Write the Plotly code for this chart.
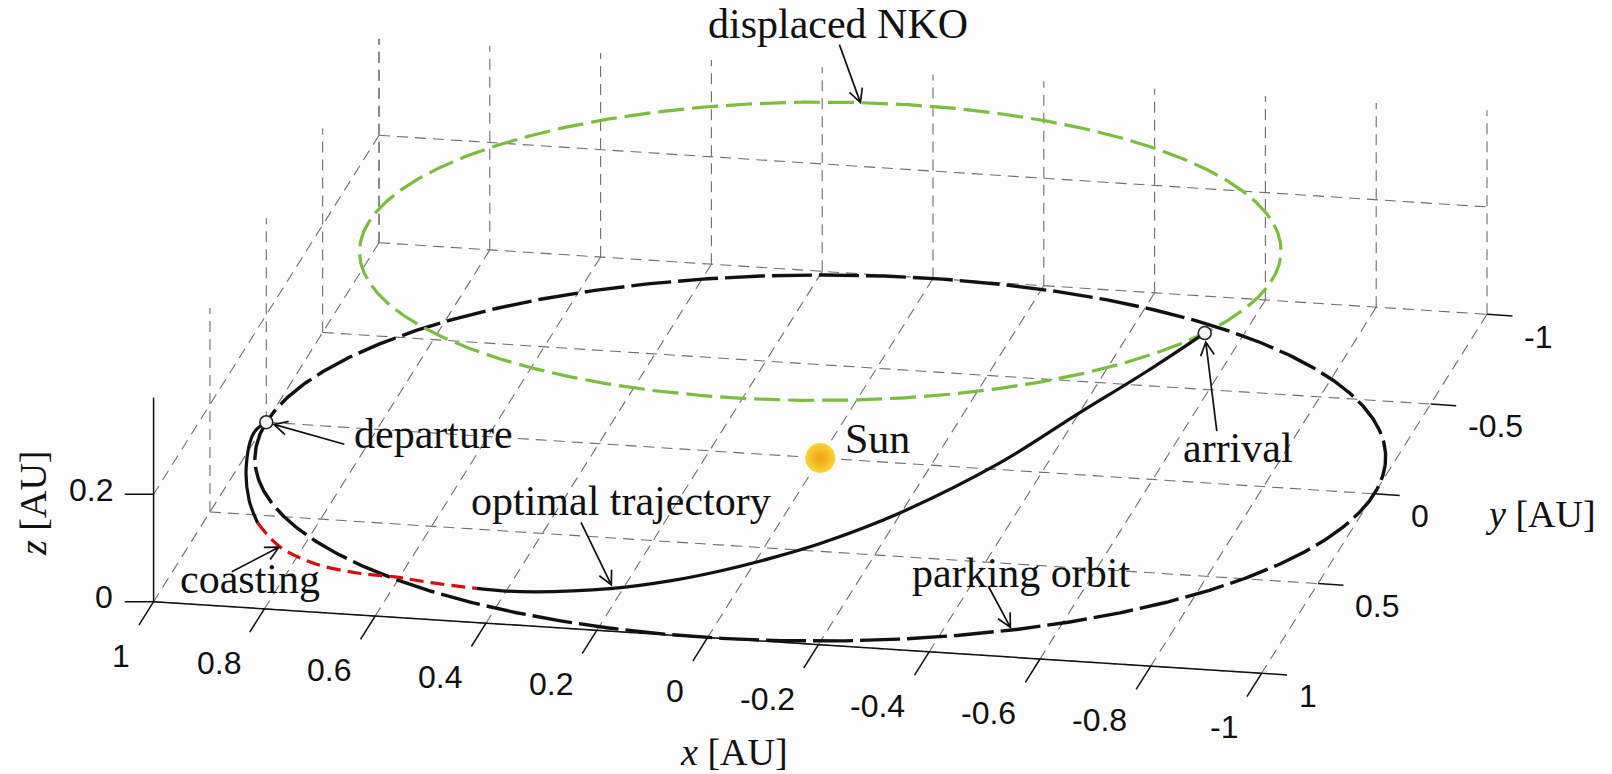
import numpy as np
import plotly.graph_objects as go

# ---------------- data (AU) ----------------
x_ticks = [1, 0.8, 0.6, 0.4, 0.2, 0, -0.2, -0.4, -0.6, -0.8, -1]
x_tick_labels = ["1", "0.8", "0.6", "0.4", "0.2", "0", "-0.2", "-0.4", "-0.6", "-0.8", "-1"]
y_ticks = [-1, -0.5, 0, 0.5, 1]
y_tick_labels = ["-1", "-0.5", "0", "0.5", "1"]
z_ticks = [0, 0.2]
z_tick_labels = ["0", "0.2"]
z_top = 0.38

parking_radius = 1.0          # circular parking orbit in the ecliptic
nko_radius = 0.815            # displaced non-Keplerian orbit
nko_height = 0.385

sun_pos = (0.0, 0.0, 0.0)

# optimal transfer: thrust arc, coasting arc, thrust arc
thrust1_x = [1.000, 1.010, 0.986, 0.945, 0.905]
thrust1_y = [0.000, 0.062, 0.247, 0.423, 0.543]
thrust1_z = [0.0, 0.0, 0.0, 0.0, 0.0]

coast_x = [0.905, 0.841, 0.764, 0.678, 0.608, 0.536, 0.454]
coast_y = [0.543, 0.662, 0.739, 0.776, 0.784, 0.803, 0.817]
coast_z = [0.0, 0.0, 0.0, 0.0, 0.0, 0.0, 0.0]

thrust2_x = [0.454, 0.372, 0.200, 0.098, 0.007, -0.081, -0.166, -0.303, -0.463, -0.585, -0.679, -0.756]
thrust2_y = [0.817, 0.834, 0.856, 0.854, 0.855, 0.842, 0.817, 0.784, 0.683, 0.573, 0.446, 0.305]
thrust2_z = [0.0, 0.005, 0.030, 0.050, 0.075, 0.100, 0.125, 0.180, 0.250, 0.315, 0.355, 0.385]

# ---------------- view (orthographic camera, pixels per AU) ----------------
W, H = 1612, 774
ORIGIN = (820.3, 458.0)
EX = (-554.0, -35.8)
EY = (-112.7, 179.5)
EZ = (0.0, -537.0)


def project(x, y, z):
    x = np.asarray(x, dtype=float)
    y = np.asarray(y, dtype=float)
    z = np.asarray(z, dtype=float)
    u = ORIGIN[0] + EX[0] * x + EY[0] * y + EZ[0] * z
    v = ORIGIN[1] + EX[1] * x + EY[1] * y + EZ[1] * z
    return u, v


def segments(pairs):
    xs, ys = [], []
    for p, q in pairs:
        u, v = project([p[0], q[0]], [p[1], q[1]], [p[2], q[2]])
        xs += list(u) + [None]
        ys += list(v) + [None]
    return xs, ys


fig = go.Figure()

GRID = dict(color="#6e6e6e", width=1.1, dash="11px,7px")
INK = "#111111"

# ---- grid on floor, back wall and side wall ----
grid = []
for xv in x_ticks:
    grid.append(((xv, -1, 0), (xv, 1, 0)))
for yv in y_ticks:
    grid.append(((1, yv, 0), (-1, yv, 0)))
for xv in x_ticks:
    grid.append(((xv, -1, 0), (xv, -1, z_top)))
for zv in z_ticks[1:]:
    grid.append(((1, -1, zv), (-1, -1, zv)))
for yv in y_ticks[:-1]:
    grid.append(((1, yv, 0), (1, yv, z_top)))
for zv in z_ticks[1:]:
    grid.append(((1, -1, zv), (1, 1, zv)))
gx, gy = segments(grid)
fig.add_trace(go.Scatter(x=gx, y=gy, mode="lines", line=GRID, hoverinfo="skip"))

# ---- axis lines and ticks ----
axis = [((1, 1, 0), (-1, 1, 0)), ((1, 1, 0), (1, 1, z_top))]
for xv in x_ticks:
    axis.append(((xv, 1, 0), (xv, 1.13, 0)))
for yv in y_ticks:
    axis.append(((-1, yv, 0), (-1.046, yv, 0)))
for zv in z_ticks:
    axis.append(((1, 1, zv), (1.05, 1.01, zv)))
ax_x, ax_y = segments(axis)
fig.add_trace(go.Scatter(x=ax_x, y=ax_y, mode="lines",
                         line=dict(color=INK, width=1.5), hoverinfo="skip"))

# ---- orbits ----
t = np.linspace(0, 2 * np.pi, 721)
pu, pv = project(parking_radius * np.cos(t), parking_radius * np.sin(t), 0 * t)
fig.add_trace(go.Scatter(x=pu, y=pv, mode="lines",
                         line=dict(color=INK, width=3.4, dash="40px,7px"), hoverinfo="skip"))

nu, nv = project(nko_radius * np.cos(t), nko_radius * np.sin(t), nko_height + 0 * t)
fig.add_trace(go.Scatter(x=nu, y=nv, mode="lines",
                         line=dict(color="#7cbc3e", width=3.2, dash="26px,8px"), hoverinfo="skip"))

# ---- transfer trajectory ----
for xs, ys, zs, style in [
    (thrust1_x, thrust1_y, thrust1_z, dict(color=INK, width=3.2)),
    (coast_x, coast_y, coast_z, dict(color="#d01010", width=3.2, dash="14px,7px")),
    (thrust2_x, thrust2_y, thrust2_z, dict(color=INK, width=3.2)),
]:
    u, v = project(xs, ys, zs)
    fig.add_trace(go.Scatter(x=u, y=v, mode="lines",
                             line=dict(shape="spline", smoothing=1.0, **style), hoverinfo="skip"))

# ---- Sun, departure and arrival ----
su, sv = project([sun_pos[0]], [sun_pos[1]], [sun_pos[2]])
fig.add_trace(go.Scatter(x=su, y=sv, mode="markers",
                         marker=dict(size=30, color="#fbd43a",
                                     gradient=dict(type="radial", color="#eea010"),
                                     line=dict(width=0)), hoverinfo="skip"))

dep = (thrust1_x[0], thrust1_y[0], thrust1_z[0])
arr = (thrust2_x[-1], thrust2_y[-1], thrust2_z[-1])
mu, mv = project([dep[0], arr[0]], [dep[1], arr[1]], [dep[2], arr[2]])
fig.add_trace(go.Scatter(x=mu, y=mv, mode="markers",
                         marker=dict(size=13, color="#f4f4f4", line=dict(color="#222222", width=1.6)),
                         hoverinfo="skip"))

# ---- tick labels ----
annotations = []
TICK_FONT = dict(family="Liberation Sans, Arial, sans-serif", size=32, color=INK)
for xv, lab in zip(x_ticks, x_tick_labels):
    u, v = project(xv, 1.3, 0)
    annotations.append(dict(x=float(u), y=float(v), text=lab, showarrow=False,
                            xanchor="right", yanchor="middle", xshift=12, font=TICK_FONT))
for yv, lab in zip(y_ticks, y_tick_labels):
    u, v = project(-1.065, yv, 0)
    annotations.append(dict(x=float(u), y=float(v), text=lab, showarrow=False,
                            xanchor="left", yanchor="middle", xshift=-1, yshift=-20, font=TICK_FONT))
for zv, lab in zip(z_ticks, z_tick_labels):
    u, v = project(1.07, 1.0, zv)
    annotations.append(dict(x=float(u), y=float(v), text=lab, showarrow=False,
                            xanchor="right", yanchor="middle", yshift=2, font=TICK_FONT))

# ---- axis titles ----
SERIF = "Liberation Serif, Times New Roman, serif"
TITLE_FONT = dict(family=SERIF, size=38, color=INK)
annotations.append(dict(x=734, y=752, text="<i>x</i> [AU]", showarrow=False,
                        xanchor="center", yanchor="middle", font=TITLE_FONT))
annotations.append(dict(x=1540, y=514, text="<i>y</i> [AU]", showarrow=False,
                        xanchor="center", yanchor="middle", font=TITLE_FONT))
annotations.append(dict(x=33, y=503, text="<i>z</i> [AU]", showarrow=False, textangle=-90,
                        xanchor="center", yanchor="middle", font=TITLE_FONT))

# ---- callouts ----
LABEL_FONT = dict(family=SERIF, size=42, color=INK)
labels = [
    ("displaced NKO", 838, 24, "center"),
    ("departure", 352, 434, "left"),
    ("Sun", 843, 439, "left"),
    ("optimal trajectory", 773, 501, "right"),
    ("coasting", 178, 579, "left"),
    ("arrival", 1181, 448, "left"),
    ("parking orbit", 910, 573, "left"),
]
for text, lx, ly, anchor in labels:
    annotations.append(dict(x=lx, y=ly, text=text, showarrow=False,
                            xanchor=anchor, yanchor="middle", font=LABEL_FONT))


def arrow_path(head, tail, standoff=0.0, arm=15.0, spread=np.radians(27)):
    hx, hy = head
    tx, ty = tail
    d = np.array([tx - hx, ty - hy])
    d = d / np.hypot(*d)
    hx, hy = hx + d[0] * standoff, hy + d[1] * standoff
    c, s = np.cos(spread), np.sin(spread)
    a1 = (hx + arm * (c * d[0] - s * d[1]), hy + arm * (s * d[0] + c * d[1]))
    a2 = (hx + arm * (c * d[0] + s * d[1]), hy + arm * (-s * d[0] + c * d[1]))
    return (f"M {tx:.1f} {ty:.1f} L {hx:.1f} {hy:.1f} "
            f"M {a1[0]:.1f} {a1[1]:.1f} L {hx:.1f} {hy:.1f} L {a2[0]:.1f} {a2[1]:.1f}")


def pt(x, y, z):
    u, v = project(x, y, z)
    return float(u), float(v)


nko_pt = np.radians(-83.5)
park_pt = np.radians(121.3)
callouts = [
    (pt(nko_radius * np.cos(nko_pt), nko_radius * np.sin(nko_pt), nko_height), (-21, -58), 0),
    (pt(*dep), (78, 22), 8),
    (pt(*arr), (12, 98), 9),
    (pt(coast_x[1], coast_y[1], coast_z[1]), (-48, 25), 1),
    (pt(thrust2_x[2], thrust2_y[2], thrust2_z[2]), (-32, -66), 4),
    (pt(parking_radius * np.cos(park_pt), parking_radius * np.sin(park_pt), 0), (-23, -43), 3),
]
shapes = []
for head, off, so in callouts:
    tail = (head[0] + off[0], head[1] + off[1])
    shapes.append(dict(type="path", xref="x", yref="y",
                       path=arrow_path(head, tail, so),
                       line=dict(color=INK, width=1.7)))

fig.update_layout(
    width=W, height=H, autosize=False,
    margin=dict(l=0, r=0, t=0, b=0),
    paper_bgcolor="#fcfcfc", plot_bgcolor="#fcfcfc",
    showlegend=False,
    xaxis=dict(range=[0, W], visible=False, fixedrange=True),
    yaxis=dict(range=[H, 0], visible=False, fixedrange=True),
    annotations=annotations,
    shapes=shapes,
)

fig.write_html("out.html")
